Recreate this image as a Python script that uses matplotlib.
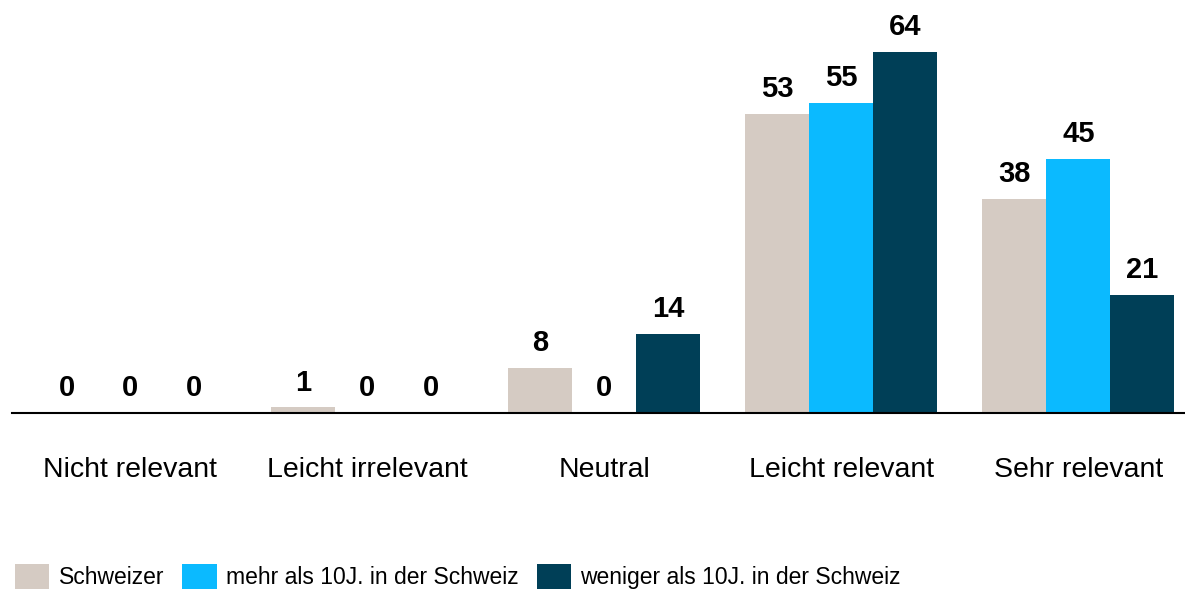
import numpy as np
import matplotlib
matplotlib.use('Agg')
import matplotlib.pyplot as plt
from matplotlib import font_manager

names = set(f.name for f in font_manager.fontManager.ttflist)
fam = 'Liberation Sans Narrow' if 'Liberation Sans Narrow' in names else 'Liberation Sans'
plt.rcParams['font.family'] = [fam, 'DejaVu Sans']

categories = ['Nicht relevant', 'Leicht irrelevant', 'Neutral', 'Leicht relevant', 'Sehr relevant']
series_names = ['Schweizer', 'mehr als 10J. in der Schweiz', 'weniger als 10J. in der Schweiz']
schweizer = [0, 1, 8, 53, 38]
mehr10 = [0, 0, 0, 55, 45]
weniger10 = [0, 0, 14, 64, 21]
colors = ['#D5CBC3', '#0BBAFF', '#003F57']

fig = plt.figure(figsize=(11.85, 5.93), dpi=100)
ax = fig.add_axes([12/1185, 180/593, 1 - 12/1185, 413/593])

x = np.arange(len(categories))
w = 0.27
for i, (vals, col, nm) in enumerate(zip([schweizer, mehr10, weniger10], colors, series_names)):
    pos = x + (i - 1) * w
    ax.bar(pos, vals, width=w, color=col, label=nm)
    for p, v in zip(pos, vals):
        ax.text(p, v + 1.9, str(v), ha='center', va='bottom', fontsize=21, fontweight='bold')

ax.set_xlim(-0.5, 4.45)
ax.set_ylim(0, 73.2)
ax.set_yticks([])
ax.set_xticks(x)
ax.set_xticklabels(categories, fontsize=20.5)
ax.tick_params(axis='x', length=0, pad=32)
for s in ['top', 'right', 'left']:
    ax.spines[s].set_visible(False)
ax.spines['bottom'].set_linewidth(1.5)

fig.legend(loc='lower left', bbox_to_anchor=(15/1185, 0.006), ncol=3, frameon=False,
           fontsize=16.5, handlelength=1.5, handleheight=1.3, handletextpad=0.4,
           columnspacing=0.8, borderaxespad=0, borderpad=0)

fig.savefig('out.png', dpi=100)
